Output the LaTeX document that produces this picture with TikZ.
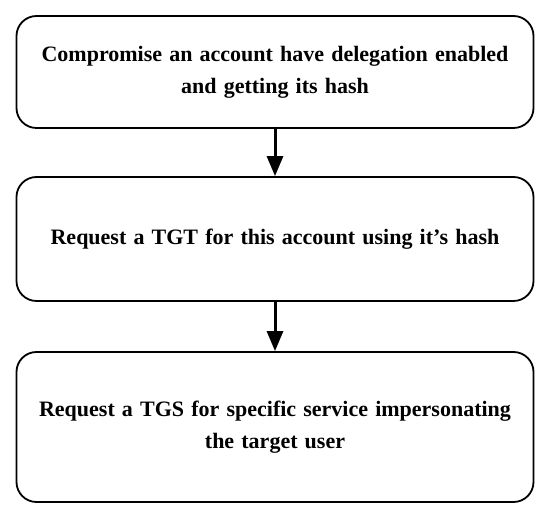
\documentclass[tikz,border=0pt]{standalone}
\usepackage{fontspec}
\setmainfont{Liberation Serif}[WordSpace={1.3}]
\usetikzlibrary{arrows.meta}
\begin{document}
\begin{tikzpicture}[x=1pt,y=-1pt,
  stepbox/.style={draw=black,line width=1.8pt,rounded corners=20pt,align=center,
    font=\bfseries\fontsize{22}{32}\selectfont,inner sep=0pt},
  flow/.style={line width=3pt,-{Triangle[width=16pt,length=20pt]}}]
\useasboundingbox (0,0) rectangle (550,518);
\node[stepbox,minimum width=517pt,minimum height=112pt] (a) at (275,72) {Compromise an account have delegation enabled\\and getting its hash};
\node[stepbox,minimum width=517pt,minimum height=124pt] (b) at (275,239) {Request a TGT for this account using it’s hash};
\node[stepbox,minimum width=517pt,minimum height=150pt] (c) at (275,427) {Request a TGS for specific service impersonating\\the target user};
\draw[flow] (a.south) -- (b.north);
\draw[flow] (b.south) -- (c.north);
\end{tikzpicture}
\end{document}
